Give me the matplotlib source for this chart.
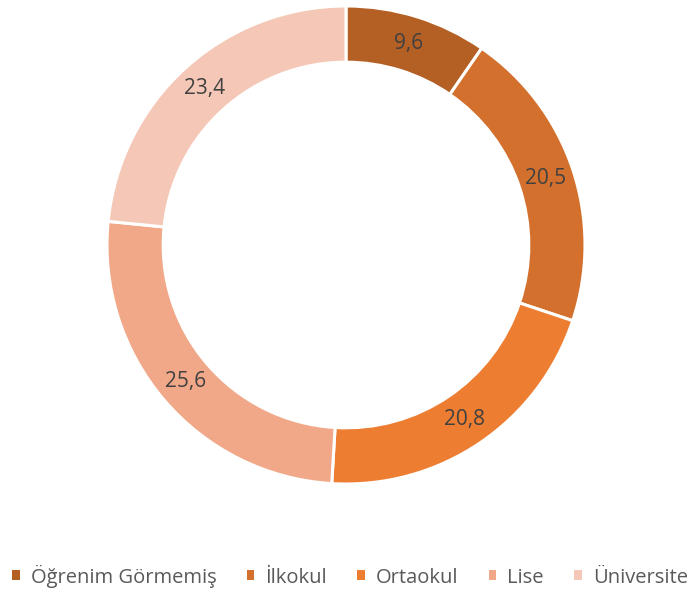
import matplotlib
matplotlib.use("Agg")
import matplotlib.pyplot as plt
from matplotlib.patches import Patch
import numpy as np

plt.rcParams['font.family'] = ['Open Sans', 'DejaVu Sans']

categories = ['Öğrenim Görmemiş', 'İlkokul', 'Ortaokul', 'Lise', 'Üniversite']
values = [9.6, 20.5, 20.8, 25.6, 23.4]
labels = ['9,6', '20,5', '20,8', '25,6', '23,4']
colors = ['#B45F24', '#D3702D', '#ED7D31', '#F0A889', '#F5C7B6']

W, H = 694, 592
fig = plt.figure(figsize=(W / 100, H / 100), dpi=100)

cx, cy, r = 346, 245, 239
ax = fig.add_axes([(cx - r) / W, (H - cy - r) / H, 2 * r / W, 2 * r / H])

ring = 0.235
wedges, _ = ax.pie(values, colors=colors, startangle=90, counterclock=False,
                   radius=1, wedgeprops=dict(width=ring, edgecolor='white', linewidth=2.2))

# value labels in the middle of the ring
for w, lab in zip(wedges, labels):
    ang = np.deg2rad((w.theta1 + w.theta2) / 2)
    rr = 1 - ring / 2
    ax.text(rr * np.cos(ang), rr * np.sin(ang), lab, ha='center', va='center',
            fontsize=15, color='#404040')

ax.set_xlim(-1, 1)
ax.set_ylim(-1, 1)
ax.axis('off')

handles = [Patch(facecolor=c, edgecolor='none') for c in colors]
fig.legend(handles, categories, loc='center', bbox_to_anchor=(350 / W, 1 - 576 / H),
           ncol=5, frameon=False, fontsize=14.5, labelcolor='#595959',
           handlelength=0.38, handleheight=0.38, handletextpad=0.55, columnspacing=1.5,
           borderpad=0, borderaxespad=0)

fig.savefig('out.png', dpi=100)
